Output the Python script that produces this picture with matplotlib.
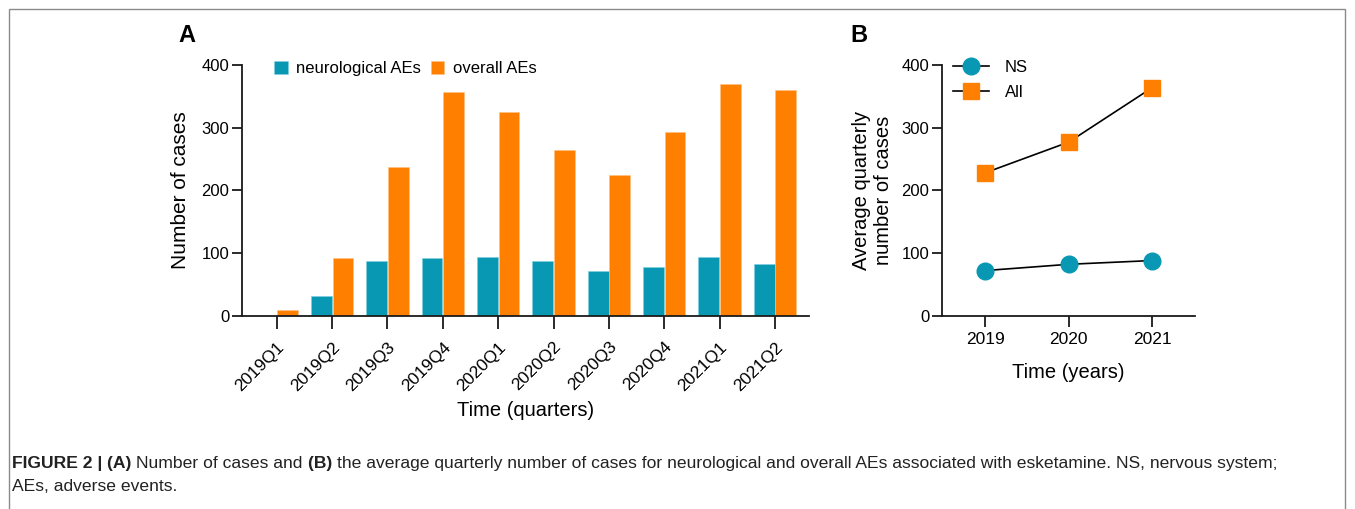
import numpy as np
import matplotlib
matplotlib.use("Agg")
import matplotlib.pyplot as plt
from matplotlib.patches import Rectangle

plt.rcParams['font.family'] = ['Liberation Sans', 'DejaVu Sans']

# panel A data
quarters = ['2019Q1', '2019Q2', '2019Q3', '2019Q4', '2020Q1',
            '2020Q2', '2020Q3', '2020Q4', '2021Q1', '2021Q2']
neuro_aes = [0, 32, 88, 92, 93, 87, 71, 78, 94, 83]
overall_aes = [9, 92, 237, 357, 325, 265, 225, 293, 369, 360]

# panel B data
years = [2019, 2020, 2021]
ns_avg = [72, 82, 88]
all_avg = [228, 277, 364]

teal = '#0998B3'
orange = '#FF8000'

fig = plt.figure(figsize=(13.55, 5.09), dpi=100)

# outer frame
fig.patches.append(Rectangle((9 / 1355, -0.05), 1336 / 1355, 1.05 - 9 / 509,
                             transform=fig.transFigure, fill=False,
                             edgecolor='#8a8a8a', lw=1.0))


def style(ax):
    for s in ['top', 'right']:
        ax.spines[s].set_visible(False)
    for s in ['left', 'bottom']:
        ax.spines[s].set_linewidth(1.3)
        ax.spines[s].set_color('#1a1a1a')
    ax.tick_params(axis='y', length=7, width=1.3, labelsize=12, pad=2, color='#1a1a1a')
    ax.tick_params(axis='x', length=9, width=1.3, labelsize=12.5, color='#1a1a1a')


# ---- panel A
axA = fig.add_axes([0.1784, 0.3798, 0.4189, 0.4925])
x = np.arange(len(quarters))
w = 0.375
axA.bar(x - 0.195, neuro_aes, w, color=teal, edgecolor='#7fd0e0', linewidth=0.4,
        label='neurological AEs')
axA.bar(x + 0.195, overall_aes, w, color=orange, edgecolor='#ffc080', linewidth=0.4,
        label='overall AEs')
axA.set_xlim(-0.632, 9.62)
axA.set_ylim(0, 400)
axA.set_yticks([0, 100, 200, 300, 400])
axA.set_xticks(x)
axA.set_xticklabels(quarters, rotation=45, ha='right', rotation_mode='anchor')
style(axA)
axA.tick_params(axis='x', pad=8)
axA.set_ylabel('Number of cases', fontsize=15, labelpad=8)
axA.set_xlabel('Time (quarters)', fontsize=14.5, labelpad=5)
axA.legend(loc='upper left', bbox_to_anchor=(0.031, 1.075), ncol=2, frameon=False,
           fontsize=12, handlelength=0.8, handleheight=0.8, handletextpad=0.5,
           columnspacing=0.6)
fig.text(178 / 1355, 1 - 36 / 509, 'A', fontsize=17, fontweight='bold', va='center')

# ---- panel B
axB = fig.add_axes([0.695, 0.3798, 0.1869, 0.4925])
axB.plot(years, ns_avg, color='black', lw=1.2, marker='o', markersize=12,
         markerfacecolor=teal, markeredgecolor=teal, label='NS', zorder=3)
axB.plot(years, all_avg, color='black', lw=1.2, marker='s', markersize=11,
         markerfacecolor=orange, markeredgecolor=orange, label='All', zorder=3)
axB.set_xlim(2018.48, 2021.51)
axB.set_ylim(0, 400)
axB.set_yticks([0, 100, 200, 300, 400])
axB.set_xticks(years)
style(axB)
axB.tick_params(axis='x', length=8)
axB.set_ylabel('Average quarterly\nnumber of cases', fontsize=14.5, labelpad=6)
axB.set_xlabel('Time (years)', fontsize=14.5, labelpad=12)
axB.legend(loc='upper left', bbox_to_anchor=(-0.016, 1.08), frameon=False, fontsize=12,
           handlelength=2.2, handletextpad=0.92, labelspacing=0.6)
fig.text(850 / 1355, 1 - 36 / 509, 'B', fontsize=17, fontweight='bold', va='center')

# ---- caption with bold parts
renderer = fig.canvas.get_renderer()
cap_fs = 12.6


def put(xf, yf, s, bold=False):
    t = fig.text(xf, yf, s, fontsize=cap_fs, fontweight='bold' if bold else 'normal',
                 va='baseline', color='#222222')
    bb = t.get_window_extent(renderer)
    return xf + bb.width / 1355


y1 = 1 - 468 / 509
xx = 12 / 1355
xx = put(xx, y1, 'FIGURE 2 | ', True)
xx = put(xx, y1, '(A) ', True)
xx = put(xx, y1, 'Number of cases and ')
xx = put(xx, y1, '(B) ', True)
xx = put(xx, y1, 'the average quarterly number of cases for neurological and overall AEs '
                 'associated with esketamine. NS, nervous system;')
put(12 / 1355, 1 - 491 / 509, 'AEs, adverse events.')

fig.savefig('out.png', dpi=100)
